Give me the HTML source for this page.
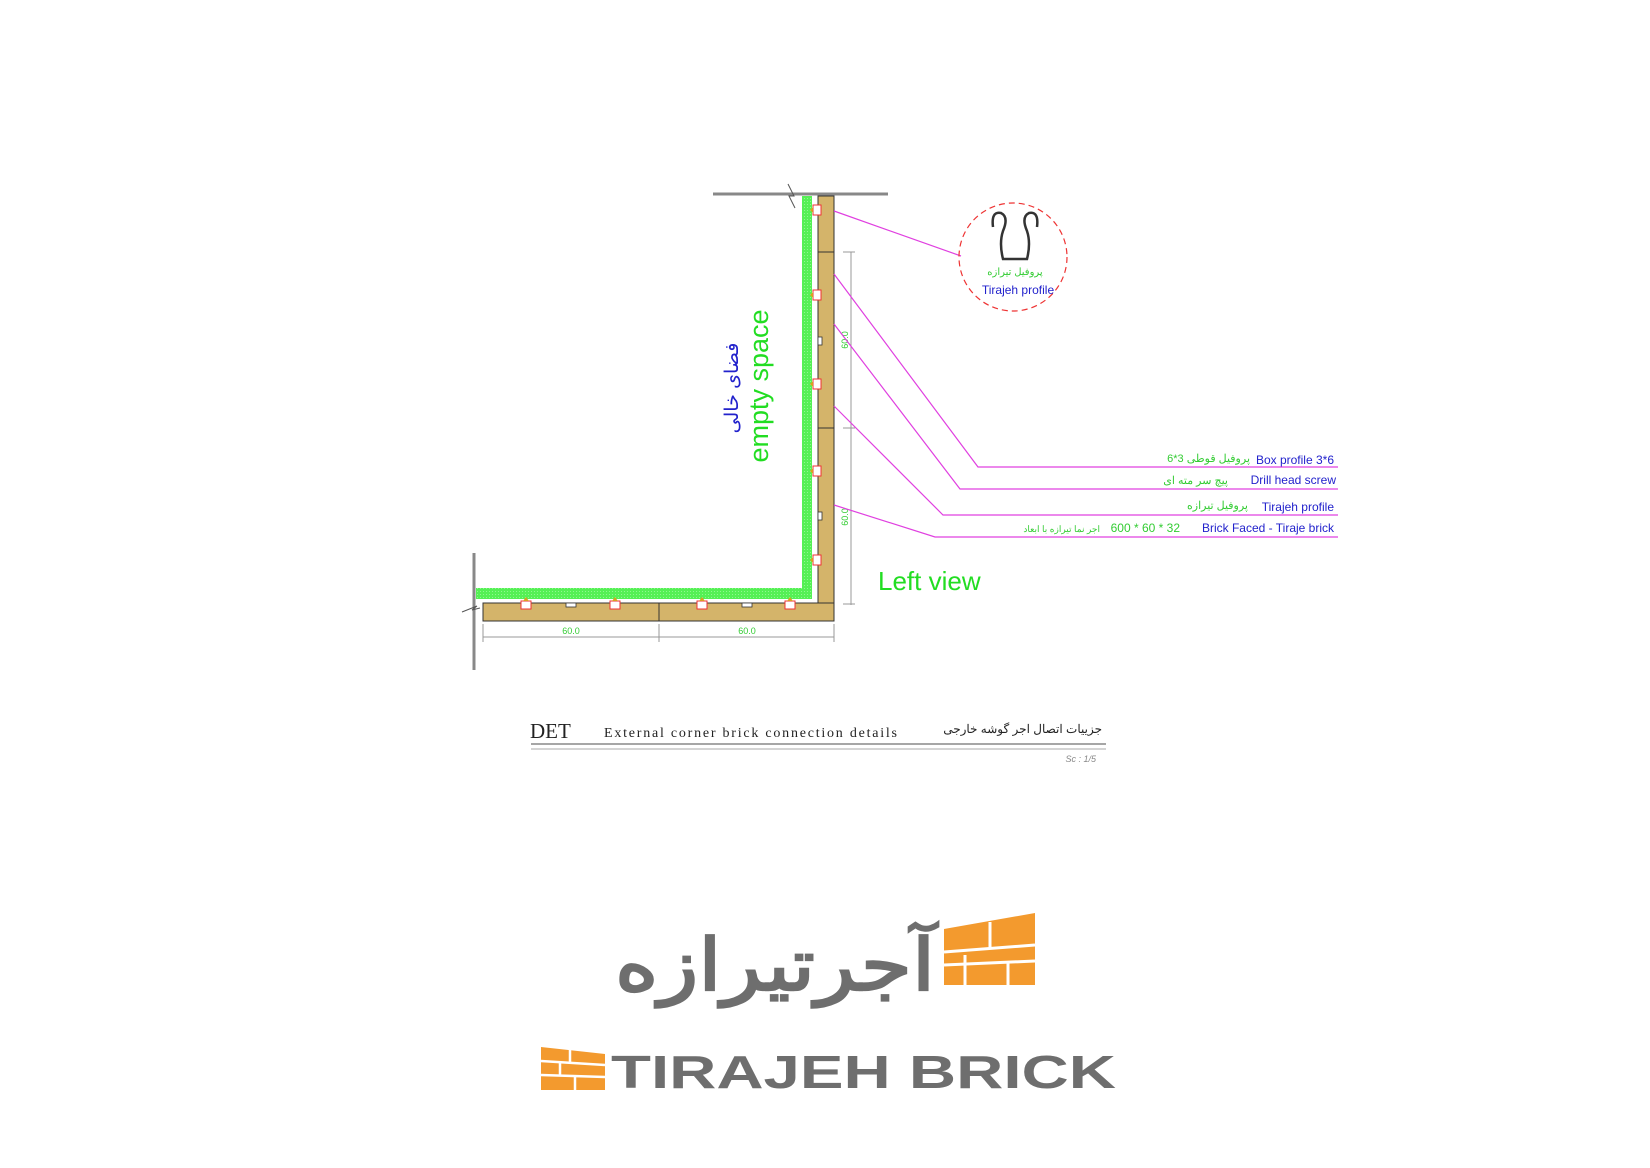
<!DOCTYPE html>
<html><head><meta charset="utf-8"><style>
html,body{margin:0;padding:0;background:#fff;width:1650px;height:1168px;overflow:hidden}
svg{display:block}
.s{font-family:"Liberation Sans","Noto Sans CJK SC",sans-serif}
.r{font-family:"Liberation Serif",serif}
</style></head><body>
<svg width="1650" height="1168" viewBox="0 0 1650 1168" xmlns="http://www.w3.org/2000/svg">
<defs>
<pattern id="hatch" width="3" height="3" patternUnits="userSpaceOnUse">
<rect width="3" height="3" fill="#55f055"/><rect width="1" height="1" fill="#8ff88f"/>
</pattern>
<g id="clipV"><rect x="-5" y="-5" width="8" height="10" fill="#fff" stroke="#e33" stroke-width="1"/><path d="M-8 0 l3 -3 v6z" fill="#d9a020"/></g>
<g id="clipH"><rect x="-5" y="-6" width="10" height="8" fill="#fff" stroke="#e33" stroke-width="1"/><path d="M0 -10 l-3 4 h6z" fill="#d9a020"/></g>
</defs>

<line x1="713" y1="194" x2="888" y2="194" stroke="#888" stroke-width="3"/>
<path d="M788 184 l6 12 l-5 0 l6 12" fill="none" stroke="#555" stroke-width="1"/>
<line x1="474" y1="553" x2="474" y2="670" stroke="#888" stroke-width="3"/>
<path d="M462 612 l15 -6 l-5 4 l8 -2" fill="none" stroke="#555" stroke-width="1"/>

<path d="M802 196 H812 V599 H476 V588 H802 Z" fill="url(#hatch)"/>

<rect x="818" y="196" width="16" height="408" fill="#d4b46a" stroke="#333" stroke-width="1"/>
<rect x="483" y="603" width="351" height="18" fill="#d4b46a" stroke="#333" stroke-width="1"/>
<line x1="818" y1="252" x2="834" y2="252" stroke="#333"/>
<line x1="818" y1="428" x2="834" y2="428" stroke="#333"/>
<line x1="659" y1="603" x2="659" y2="621" stroke="#333"/>
<rect x="818" y="337" width="4" height="8" fill="#fff" stroke="#333" stroke-width="0.8"/>
<rect x="818" y="512" width="4" height="8" fill="#fff" stroke="#333" stroke-width="0.8"/>
<rect x="566" y="603" width="10" height="4" fill="#fff" stroke="#333" stroke-width="0.8"/>
<rect x="742" y="603" width="10" height="4" fill="#fff" stroke="#333" stroke-width="0.8"/>
<use href="#clipV" x="818" y="210"/><use href="#clipV" x="818" y="295"/><use href="#clipV" x="818" y="384"/><use href="#clipV" x="818" y="471"/><use href="#clipV" x="818" y="560"/>
<use href="#clipH" x="526" y="607"/><use href="#clipH" x="615" y="607"/><use href="#clipH" x="702" y="607"/><use href="#clipH" x="790" y="607"/>

<g stroke="#999" stroke-width="1">
<line x1="851" y1="252" x2="851" y2="605"/>
<line x1="843" y1="252" x2="855" y2="252"/><line x1="843" y1="428" x2="855" y2="428"/><line x1="843" y1="604" x2="855" y2="604"/>
<line x1="483" y1="637" x2="834" y2="637"/>
<line x1="483" y1="624" x2="483" y2="642"/><line x1="659" y1="624" x2="659" y2="642"/><line x1="834" y1="624" x2="834" y2="642"/>
</g>
<g fill="#3c3" font-size="9" class="s">
<text x="571" y="634" text-anchor="middle">60.0</text>
<text x="747" y="634" text-anchor="middle">60.0</text>
<text transform="translate(848 340) rotate(-90)" text-anchor="middle">60.0</text>
<text transform="translate(848 517) rotate(-90)" text-anchor="middle">60.0</text>
</g>

<g stroke="#e040e0" stroke-width="1.2" fill="none">
<polyline points="834,211 961,256"/>
<polyline points="834,274 978,467 1338,467"/>
<polyline points="834,324 960,489 1338,489"/>
<polyline points="834,406 943,515 1338,515"/>
<polyline points="834,505 935,537 1338,537"/>
</g>

<circle cx="1013" cy="257" r="54" fill="none" stroke="#e33" stroke-width="1.2" stroke-dasharray="6 4"/>
<path d="M993 227 q-2 -16 8 -14 q8 4 2 18 q-4 12 0 28 h24 q4 -16 0 -28 q-6 -14 2 -18 q10 -2 8 14" fill="none" stroke="#333" stroke-width="2.5"/>
<text class="s" x="1015" y="275" font-size="10" fill="#3c3" text-anchor="middle">پروفیل تیرازه</text>
<text class="s" x="1018" y="294" font-size="12" fill="#22c" text-anchor="middle">Tirajeh profile</text>

<g font-size="12" fill="#22c" text-anchor="end" class="s">
<text x="1334" y="464">Box profile 3*6</text>
<text x="1336" y="484">Drill head screw</text>
<text x="1334" y="511">Tirajeh profile</text>
<text x="1334" y="532">Brick Faced - Tiraje brick</text>
</g>
<g font-size="11" fill="#3c3" text-anchor="end" class="s">
<text x="1250" y="462">پروفیل قوطی  3*6</text>
<text x="1228" y="484">پیچ سر مته ای</text>
<text x="1248" y="509">پروفیل تیرازه</text>
<text x="1180" y="532" font-size="12">600 * 60 * 32</text>
<text x="1100" y="532" font-size="9">اجر نما تیرازه با ابعاد</text>
</g>

<text class="s" x="878" y="590" font-size="26" fill="#2d2">Left view</text>
<text class="s" transform="translate(768 386) rotate(-90)" font-size="27" fill="#2d2" text-anchor="middle">empty space</text>
<text class="s" transform="translate(738 388) rotate(-90)" font-size="19" fill="#22c" text-anchor="middle">فضای خالی</text>

<text class="r" x="530" y="738" font-size="21" fill="#222">DET</text>
<text class="r" x="604" y="737" font-size="14" fill="#222" textLength="293" lengthAdjust="spacing">External corner brick connection details</text>
<text class="s" x="1102" y="733" font-size="12" fill="#222" text-anchor="end">جزییات اتصال اجر گوشه خارجی</text>
<line x1="531" y1="744" x2="1106" y2="744" stroke="#888" stroke-width="1.5"/>
<line x1="531" y1="749" x2="1106" y2="749" stroke="#aaa" stroke-width="1"/>
<text class="s" x="1096" y="762" font-size="9" font-style="italic" fill="#888" text-anchor="end">Sc : 1/5</text>

<text class="s" x="775" y="990" font-size="72" font-weight="bold" fill="#6e6e6e" text-anchor="middle" textLength="320" lengthAdjust="spacingAndGlyphs">آجرتیرازه</text>
<path d="M944 929 L1035 913 V985 H944 Z" fill="#f39a2e"/>
<g stroke="#fff" stroke-width="3">
<line x1="944" y1="952" x2="1035" y2="945"/><line x1="944" y1="965" x2="1035" y2="961"/>
<line x1="990" y1="922" x2="990" y2="949"/><line x1="965" y1="955" x2="965" y2="985"/><line x1="1008" y1="963" x2="1008" y2="985"/>
</g>
<path d="M541 1047 L605 1054 V1090 H541 Z" fill="#f39a2e"/>
<g stroke="#fff" stroke-width="2.5">
<line x1="541" y1="1061" x2="605" y2="1065"/><line x1="541" y1="1075" x2="605" y2="1077"/>
<line x1="570" y1="1049" x2="570" y2="1063"/><line x1="560" y1="1063" x2="560" y2="1076"/><line x1="575" y1="1077" x2="575" y2="1090"/>
</g>
<text class="s" x="611" y="1088" font-size="46" font-weight="bold" fill="#6e6e6e" textLength="505" lengthAdjust="spacingAndGlyphs">TIRAJEH BRICK</text>
</svg>
</body></html>
